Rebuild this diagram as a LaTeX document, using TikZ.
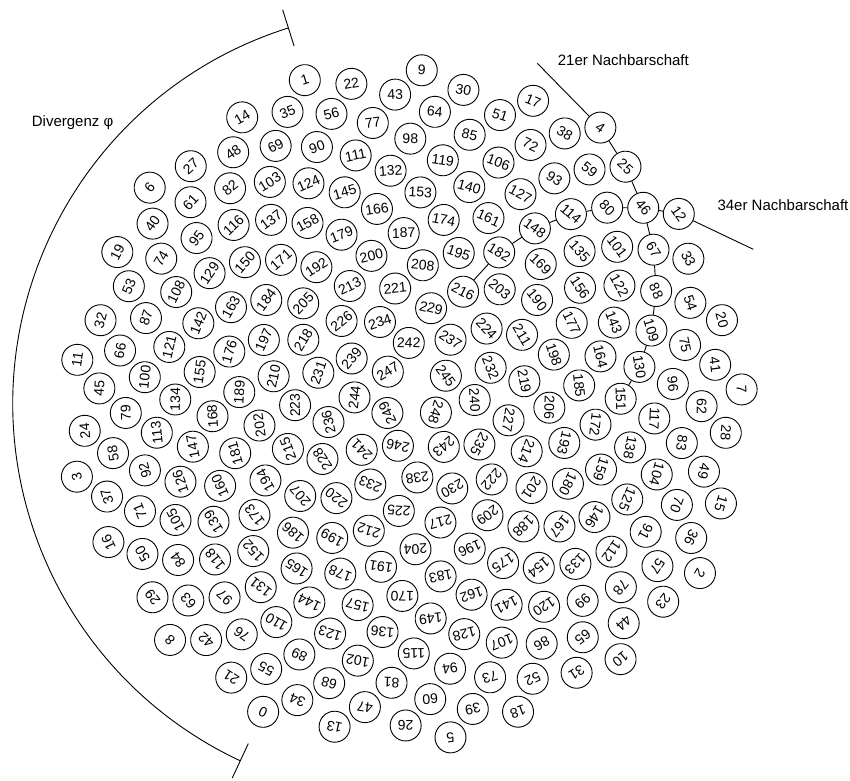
\documentclass[tikz,border=0pt]{standalone}
\usepackage{fontspec}
\setmainfont{Liberation Sans}
\begin{document}
\begin{tikzpicture}[x=1pt,y=1pt,
  leaf/.style={circle,draw,line width=0.9pt,minimum size=31pt,inner sep=0pt,font=\fontsize{14}{14}\selectfont},
  lab/.style={font=\fontsize{15}{15}\selectfont,inner sep=0pt,anchor=base west},
  link/.style={line width=0.9pt}]
\useasboundingbox (-406.8,-376.3) rectangle (443.2,403.7);
\foreach \n in {0,...,249}{
  \edef\ang{\fpeval{round(245-\n*137.50776-360*floor((245-\n*137.50776)/360),4)}}
  \edef\rot{\fpeval{round(\ang-90,4)}}
  \edef\rad{\fpeval{round(21.5*sqrt(250-\n),4)}}
  \node[leaf,rotate=\rot] (p\n) at (\ang:\rad) {\n};
}
\foreach \a/\b in {4/25,25/46,46/67,67/88,88/109,109/130,130/151,12/46,46/80,80/114,114/148,148/182,182/216}
  \draw[link] (p\a) -- (p\b);
\coordinate (e21) at (130.5,340.4);
\coordinate (e34) at (346.5,154.4);
\draw[link] (e21) -- (p4);
\draw[link] (p12) -- (e34);
\node[lab] (t21) at (150.9,338.7) {21er Nachbarschaft};
\node[lab] (t34) at (310.5,193) {34er Nachbarschaft};
\node[lab] (tdiv) at (-375.1,277.7) {Divergenz φ};
\draw[link] (107.49:394) arc[start angle=107.49, end angle=245, radius=394];
\draw[link] (107.49:375) -- (107.49:413);
\draw[link] (245:375) -- (245:413);
\end{tikzpicture}
\end{document}
